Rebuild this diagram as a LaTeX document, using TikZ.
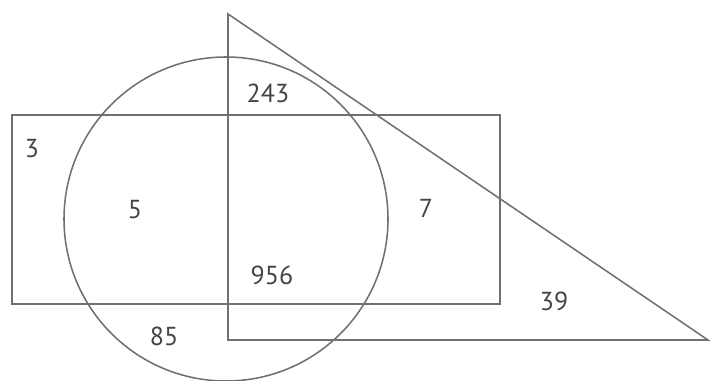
\documentclass[tikz,border=0pt]{standalone}
\usepackage{fontspec}
\setmainfont{PT Sans}
\usepackage{xcolor}
\usepackage{tikz}
\definecolor{edgegray}{HTML}{707070}
\definecolor{numgray}{HTML}{444444}

\begin{document}
\begin{tikzpicture}[
  x=0.025cm,y=-0.025cm,
  set/.style={draw=edgegray,line width=1.1pt},
  count/.style={text=numgray,font=\fontsize{18.5}{21}\selectfont,inner sep=0pt}
]
\useasboundingbox (0,0) rectangle (712,381);
\draw[set] (12,115) rectangle (500,304);
\draw[set] (226,219) circle[radius=162];
\draw[set] (228,14) -- (228,340) -- (708,340) -- cycle;
\node[count] (only-rect)   at (32,149)  {3};
\node[count] (rect-circ)   at (135,210) {5};
\node[count] (circ-tri)    at (268,93)  {243};
\node[count] (rect-tri)    at (426,208) {7};
\node[count] (all-three)   at (272,275) {956};
\node[count] (only-tri)    at (554,301) {39};
\node[count] (only-circ)   at (164,336) {85};
\end{tikzpicture}
\end{document}
